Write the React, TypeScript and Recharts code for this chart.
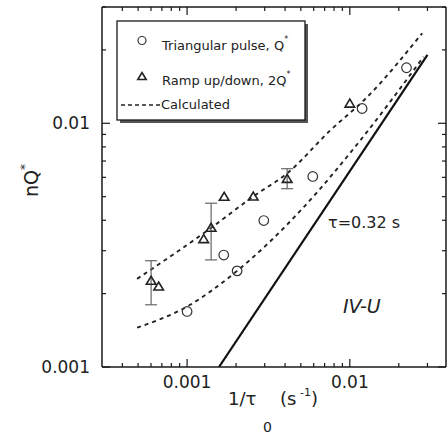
import { ComposedChart, Line, Scatter, XAxis, YAxis, ErrorBar } from 'recharts';

// triangular pulse, Q*
const pulseX = [0.001, 0.00168, 0.00203, 0.00296, 0.00592, 0.0119, 0.0223];
const pulseY = [0.00169, 0.00288, 0.00248, 0.00399, 0.00605, 0.0115, 0.0169];

// ramp up/down, 2Q*  (low/high = error bar ends, null if none)
const rampX = [0.000601, 0.000669, 0.001265, 0.001405, 0.00169, 0.00255, 0.00412, 0.01];
const rampY = [0.00226, 0.00214, 0.00335, 0.00373, 0.005, 0.00501, 0.00592, 0.01205];
const rampLow = [0.0018, null, null, 0.00275, null, null, 0.00539, null];
const rampHigh = [0.00273, null, null, 0.0047, null, null, 0.00651, null];

// calculated curves
const calcUpperX = [0.000493, 0.00141, 0.00255, 0.00412, 0.0076, 0.01276, 0.0278];
const calcUpperY = [0.0023, 0.00373, 0.00501, 0.00623, 0.00936, 0.0128, 0.0234];
const calcLowerX = [0.000493, 0.001, 0.00203, 0.00521, 0.0116, 0.0284];
const calcLowerY = [0.00145, 0.00177, 0.00248, 0.00453, 0.00851, 0.01875];

// tau = 0.32 s line
const tauX = [0.00157, 0.03];
const tauY = [0.001, 0.0191];

const xTicks = [0.0004, 0.0005, 0.0006, 0.0007, 0.0008, 0.0009, 0.001, 0.002, 0.003, 0.004, 0.005, 0.006, 0.007, 0.008, 0.009, 0.01, 0.02, 0.03];
const yTicks = [0.001, 0.002, 0.003, 0.004, 0.005, 0.006, 0.007, 0.008, 0.009, 0.01, 0.02, 0.03];

const zip = (xs: number[], ys: number[]) => xs.map((x, i) => ({ x, y: ys[i] }));

const pulseData = zip(pulseX, pulseY);
const rampData = zip(rampX, rampY);
const rampErrData = rampX
  .map((x, i) => ({ x, y: rampY[i], lo: rampLow[i], hi: rampHigh[i] }))
  .filter((d) => d.lo !== null)
  .map((d) => ({ x: d.x, y: d.y, err: [d.y - (d.lo as number), (d.hi as number) - d.y] }));
const upperData = zip(calcUpperX, calcUpperY);
const lowerData = zip(calcLowerX, calcLowerY);
const tauData = zip(tauX, tauY);

const FONT = 'DejaVu Sans';
const INK = '#1a1a1a';

const isMajor = (v: number) => Math.abs(Math.log10(v) - Math.round(Math.log10(v))) < 1e-6;

const BottomTick = ({ x, y, payload }: any) => {
  const major = isMajor(payload.value);
  return (
    <g>
      <line x1={x} y1={y} x2={x} y2={y - (major ? 8 : 4)} stroke={INK} strokeWidth={1.2} />
      {major && (
        <text x={x} y={y + 21} textAnchor="middle" fontSize={17} fontFamily={FONT} fill="#222">
          {String(payload.value)}
        </text>
      )}
    </g>
  );
};

const TopTick = ({ x, y, payload }: any) => {
  const major = isMajor(payload.value);
  return <line x1={x} y1={y} x2={x} y2={y + (major ? 8 : 4)} stroke={INK} strokeWidth={1.2} />;
};

const LeftTick = ({ x, y, payload }: any) => {
  const major = isMajor(payload.value);
  return (
    <g>
      <line x1={x} y1={y} x2={x + (major ? 8 : 4)} y2={y} stroke={INK} strokeWidth={1.2} />
      {major && (
        <text x={x - 12} y={y + 6} textAnchor="end" fontSize={17} fontFamily={FONT} fill="#222">
          {String(payload.value)}
        </text>
      )}
    </g>
  );
};

const RightTick = ({ x, y, payload }: any) => {
  const major = isMajor(payload.value);
  return <line x1={x} y1={y} x2={x - (major ? 8 : 4)} y2={y} stroke={INK} strokeWidth={1.2} />;
};

const CircleMark = ({ cx, cy }: any) => (
  <circle cx={cx} cy={cy} r={4.8} fill="none" stroke="#333" strokeWidth={1.2} />
);

const TriangleMark = ({ cx, cy }: any) => (
  <path d={`M${cx - 4.8},${cy + 3.6} L${cx + 4.8},${cy + 3.6} L${cx},${cy - 4.4} Z`} fill="none" stroke="#222" strokeWidth={1.6} />
);

const NoMark = () => <g />;

export default function App() {
  return (
    <div style={{ position: 'absolute', left: 0, top: 0, width: 447, height: 434, background: '#fff' }}>
      <ComposedChart width={447} height={434} margin={{ top: 6, right: 0, bottom: 0, left: 0 }}>
        <XAxis
          xAxisId="b"
          dataKey="x"
          type="number"
          scale="log"
          domain={[0.0003, 0.039]}
          allowDataOverflow
          ticks={xTicks}
          interval={0}
          tick={<BottomTick />}
          tickSize={0}
          tickMargin={0}
          tickLine={false}
          axisLine={{ stroke: INK, strokeWidth: 1.5 }}
          height={67}
        />
        <XAxis
          xAxisId="t"
          orientation="top"
          dataKey="x"
          type="number"
          scale="log"
          domain={[0.0003, 0.039]}
          allowDataOverflow
          ticks={xTicks}
          interval={0}
          tick={<TopTick />}
          tickSize={0}
          tickMargin={0}
          tickLine={false}
          axisLine={{ stroke: INK, strokeWidth: 1.5 }}
          height={1}
        />
        <YAxis
          yAxisId="l"
          dataKey="y"
          type="number"
          scale="log"
          domain={[0.001, 0.03]}
          allowDataOverflow
          ticks={yTicks}
          interval={0}
          tick={<LeftTick />}
          tickSize={0}
          tickMargin={0}
          tickLine={false}
          axisLine={{ stroke: INK, strokeWidth: 1.5 }}
          width={102}
        />
        <YAxis
          yAxisId="r"
          orientation="right"
          dataKey="y"
          type="number"
          scale="log"
          domain={[0.001, 0.03]}
          allowDataOverflow
          ticks={yTicks}
          interval={0}
          tick={<RightTick />}
          tickSize={0}
          tickMargin={0}
          tickLine={false}
          axisLine={{ stroke: INK, strokeWidth: 1.5 }}
          width={1}
        />
        <Line xAxisId="b" yAxisId="l" data={upperData} dataKey="y" type="monotone" stroke="#222" strokeWidth={1.9} strokeDasharray="4 4" dot={false} isAnimationActive={false} />
        <Line xAxisId="b" yAxisId="l" data={lowerData} dataKey="y" type="monotone" stroke="#222" strokeWidth={1.9} strokeDasharray="4 4" dot={false} isAnimationActive={false} />
        <Line xAxisId="b" yAxisId="l" data={tauData} dataKey="y" type="linear" stroke="#111" strokeWidth={2.2} dot={false} isAnimationActive={false} />
        <Scatter xAxisId="b" yAxisId="l" data={rampErrData} dataKey="y" shape={NoMark} isAnimationActive={false}>
          <ErrorBar dataKey="err" direction="y" width={6} stroke="#666" strokeWidth={1.2} isAnimationActive={false} />
        </Scatter>
        <Scatter xAxisId="b" yAxisId="l" data={pulseData} dataKey="y" shape={CircleMark} isAnimationActive={false} />
        <Scatter xAxisId="b" yAxisId="l" data={rampData} dataKey="y" shape={TriangleMark} isAnimationActive={false} />
      </ComposedChart>

      <svg width={447} height={434} style={{ position: 'absolute', left: 0, top: 0, pointerEvents: 'none' }} fontFamily={FONT}>
        {/* legend box */}
        <rect x={120} y={24} width={188} height={99} fill="#555" />
        <rect x={117} y={21} width={188} height={99} fill="#fff" stroke={INK} strokeWidth={1.3} />
        <circle cx={142} cy={40.5} r={4} fill="none" stroke="#333" strokeWidth={1.2} />
        <text x={162} y={50} fontSize={13} fill="#222">
          Triangular pulse, Q<tspan dy={-8} fontSize={8}>*</tspan>
        </text>
        <path d="M137.8,79.5 L146.2,79.5 L142,72.5 Z" fill="none" stroke="#222" strokeWidth={1.6} />
        <text x={162} y={85} fontSize={13} fill="#222">
          Ramp up/down, 2Q<tspan dy={-8} fontSize={8}>*</tspan>
        </text>
        <line x1={121} y1={105} x2={160} y2={105} stroke="#222" strokeWidth={1.3} strokeDasharray="4 3" />
        <text x={161} y={109} fontSize={13} fill="#222">Calculated</text>

        {/* annotations */}
        <text x={328} y={228} fontSize={16} fill="#222">τ=0.32 s</text>
        <text x={343} y={313} fontSize={19} fontStyle="italic" fill="#222">IV-U</text>

        {/* axis titles */}
        <text x={228} y={405} fontSize={18} fill="#222">1/τ</text>
        <text x={263} y={432} fontSize={14} fill="#222">0</text>
        <text x={280} y={405} fontSize={18} fill="#222">(s</text>
        <text x={300} y={396} fontSize={11} fill="#222">-1</text>
        <text x={311} y={405} fontSize={18} fill="#222">)</text>
        <text x={0} y={0} fontSize={19} fill="#222" transform="translate(38,197) rotate(-90)">
          nQ<tspan dy={-9} fontSize={12}>*</tspan>
        </text>
      </svg>
    </div>
  );
}
